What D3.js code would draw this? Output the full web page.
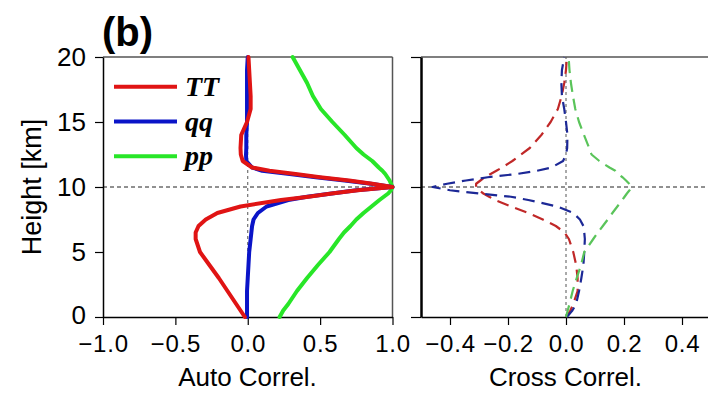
<!DOCTYPE html>
<html>
<head>
<meta charset="utf-8">
<script src="https://cdn.jsdelivr.net/npm/d3@7"></script>
<style>
  html, body { margin: 0; padding: 0; background: #fff; }
  svg { display: block; }
  text { font-family: "Liberation Sans", Arial, Helvetica, sans-serif; fill: #000; }
</style>
</head>
<body>
<svg id="chart" width="708" height="394"></svg>
<script>
// Height levels (km) shared by every profile
const heights = [0, 0.5, 1, 2, 3, 4, 5, 6, 6.5, 7, 7.5, 8, 8.5, 9, 9.25, 9.5, 9.75,
                 10, 10.25, 10.5, 10.75, 11, 11.25, 11.5, 12, 12.5, 13, 14, 15, 16, 17, 18, 19, 20];

// Auto-correlation profiles (reference level 10 km)
const autoTT = [-0.02, -0.05, -0.08, -0.14, -0.2, -0.265, -0.33, -0.36, -0.36, -0.34, -0.29, -0.21, -0.05, 0.23, 0.42, 0.58, 0.76,
                1.0, 0.86, 0.70, 0.50, 0.33, 0.15, 0.03, -0.035, -0.048, -0.05, -0.045, -0.005, 0.02, 0.02, 0.015, 0.01, 0.005];
const autoQQ = [-0.005, -0.005, -0.005, -0.005, 0.0, 0.005, 0.01, 0.02, 0.025, 0.03, 0.04, 0.07, 0.13, 0.28, 0.41, 0.58, 0.75,
                1.0, 0.85, 0.67, 0.47, 0.29, 0.10, 0.03, -0.01, -0.012, -0.01, -0.01, -0.005, -0.005, -0.005, -0.005, -0.005, 0.0];
const autoPP = [0.22, 0.245, 0.28, 0.34, 0.41, 0.485, 0.565, 0.63, 0.665, 0.71, 0.75, 0.80, 0.855, 0.91, 0.94, 0.97, 0.99,
                1.0, 0.99, 0.98, 0.965, 0.95, 0.93, 0.905, 0.86, 0.80, 0.75, 0.67, 0.585, 0.505, 0.45, 0.41, 0.36, 0.31];

// Cross-correlation profiles
const crossTQ = [0.0, 0.015, 0.025, 0.04, 0.04, 0.035, 0.025, 0.01, -0.005, -0.035, -0.08, -0.13, -0.19, -0.245, -0.265, -0.285, -0.30,
                 -0.31, -0.31, -0.295, -0.28, -0.26, -0.24, -0.22, -0.185, -0.155, -0.125, -0.085, -0.053, -0.028, -0.015, -0.006, 0.0, 0.003];
const crossQP = [0.003, 0.022, 0.035, 0.045, 0.053, 0.06, 0.063, 0.065, 0.063, 0.06, 0.048, 0.025, -0.03, -0.13, -0.19, -0.30, -0.40,
                 -0.46, -0.41, -0.345, -0.27, -0.17, -0.10, -0.05, -0.01, 0.0, 0.004, 0.005, 0.0, -0.006, -0.014, -0.016, -0.014, -0.006];
const crossTP = [0.0, 0.006, 0.012, 0.023, 0.037, 0.052, 0.063, 0.094, 0.11, 0.127, 0.144, 0.16, 0.177, 0.194, 0.202, 0.21, 0.219,
                 0.227, 0.218, 0.207, 0.195, 0.18, 0.17, 0.15, 0.115, 0.088, 0.08, 0.062, 0.045, 0.032, 0.024, 0.017, 0.012, 0.009];

const heightTicks = [0, 5, 10, 15, 20];
const autoTicks = [-1, -0.5, 0, 0.5, 1];
const crossTicks = [-0.4, -0.2, 0, 0.2, 0.4];
const legendNames = ["TT", "qq", "pp"];

const autoSeries = [
  { name: legendNames[0], values: autoTT, color: "#e01414" },
  { name: legendNames[1], values: autoQQ, color: "#0a14c8" },
  { name: legendNames[2], values: autoPP, color: "#28e628" }
];
const crossSeries = [
  { values: crossTQ, color: "#c02828" },
  { values: crossQP, color: "#1c2896" },
  { values: crossTP, color: "#5ac45a" }
];

const svg = d3.select("#chart");

const y = d3.scaleLinear().domain([0, 20]).range([317, 57]);
const xA = d3.scaleLinear().domain([-1, 1]).range([103, 392.5]);
const xC = d3.scaleLinear().domain([-0.5, 0.5]).range([421, 711]);

// title
svg.append("text").attr("x", 102).attr("y", 46)
  .style("font-size", "40px").style("font-weight", "bold").text("(b)");

function panel(x, ticks, opts) {
  const g = svg.append("g");
  const [x0, x1] = x.range();
  const [y0, y1] = y.range();

  // reference lines
  g.append("line").attr("x1", x0).attr("x2", Math.min(x1, 708)).attr("y1", y(10)).attr("y2", y(10))
    .attr("stroke", "#222").attr("stroke-width", 1).attr("stroke-dasharray", "4,3");
  g.append("line").attr("x1", x(0)).attr("x2", x(0)).attr("y1", y0).attr("y2", y1)
    .attr("stroke", "#555").attr("stroke-width", 1).attr("stroke-dasharray", "3,3");

  // frame (top / right)
  g.append("line").attr("x1", x0).attr("x2", x1).attr("y1", y1).attr("y2", y1)
    .attr("stroke", "#555").attr("stroke-width", 1.3);
  g.append("line").attr("x1", x1).attr("x2", x1).attr("y1", y1).attr("y2", y0)
    .attr("stroke", "#555").attr("stroke-width", 1.5);

  // x axis
  const ax = g.append("g").attr("transform", `translate(0,${y0})`)
    .call(d3.axisBottom(x).tickValues(ticks).tickFormat(d3.format(".1f")).tickSize(8).tickSizeOuter(0).tickPadding(10));
  ax.select(".domain").attr("stroke", "#000").attr("stroke-width", 1.5);
  ax.selectAll(".tick line").attr("stroke", "#000").attr("stroke-width", 1.2);
  ax.selectAll("text").style("font-size", "24px").style("letter-spacing", "0.8px")
    .attr("font-family", null).attr("fill", "#000");

  // y axis
  const ay = g.append("g").attr("transform", `translate(${x0},0)`)
    .call(d3.axisLeft(y).tickValues(heightTicks).tickSize(opts.ytick).tickSizeOuter(0).tickPadding(9));
  ay.select(".domain").attr("stroke", "#000").attr("stroke-width", opts.yw);
  ay.selectAll(".tick line").attr("stroke", "#000").attr("stroke-width", 1.2);
  ay.selectAll("text").style("font-size", "26px").attr("font-family", null).attr("fill", "#000");
  if (!opts.ylabels) ay.selectAll("text").remove();
  else ay.selectAll(".tick").filter(d => d === 0).select("text").attr("dy", "0.25em");

  // axis title
  g.append("text").attr("x", opts.labelX).attr("y", 386).attr("text-anchor", "middle")
    .style("font-size", "26px").text(opts.label);
  return g;
}

const gA = panel(xA, autoTicks, { ytick: 8, yw: 1.5, ylabels: true, label: "Auto Correl.", labelX: 247.5 });
const gC = panel(xC, crossTicks, { ytick: 10, yw: 2.5, ylabels: false, label: "Cross Correl.", labelX: 565.5 });

// y-axis title
svg.append("text").attr("transform", "translate(41,187) rotate(-90)").attr("text-anchor", "middle")
  .style("font-size", "27px").text("Height [km]");

// auto-correlation curves
const lineA = d3.line().x(d => xA(d[0])).y(d => y(d[1]));
autoSeries.slice().reverse().forEach(s => {
  gA.append("path").datum(s.values.map((v, i) => [v, heights[i]]))
    .attr("d", lineA).attr("fill", "none").attr("stroke", s.color)
    .attr("stroke-width", 4).attr("stroke-linejoin", "round").attr("stroke-linecap", "round");
});

// cross-correlation curves
const lineC = d3.line().x(d => xC(d[0])).y(d => y(d[1]));
crossSeries.forEach(s => {
  gC.append("path").datum(s.values.map((v, i) => [v, heights[i]]))
    .attr("d", lineC).attr("fill", "none").attr("stroke", s.color)
    .attr("stroke-width", 2.2).attr("stroke-dasharray", "12,7").attr("stroke-linejoin", "round");
});

// legend
const lg = svg.append("g");
autoSeries.forEach((s, i) => {
  const ly = 86.7 + i * 34.8;
  lg.append("line").attr("x1", 114).attr("x2", 177).attr("y1", ly).attr("y2", ly)
    .attr("stroke", s.color).attr("stroke-width", 4);
  lg.append("text").attr("x", 185).attr("y", ly + 9)
    .style("font-family", "'Liberation Serif', 'Times New Roman', serif")
    .style("font-style", "italic").style("font-weight", "bold").style("font-size", "28px")
    .text(s.name);
});
</script>
</body>
</html>
